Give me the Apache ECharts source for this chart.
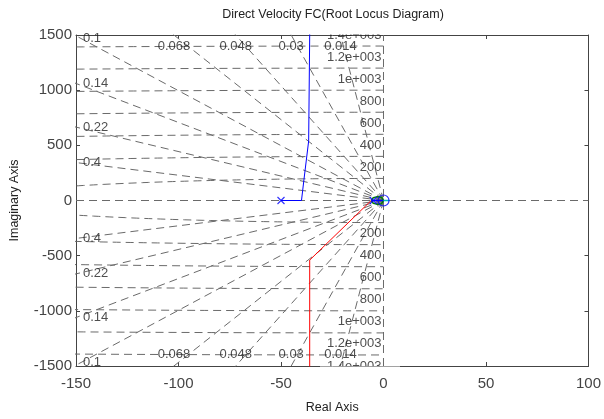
<!DOCTYPE html>
<html lang="en">
  <head>
    <meta charset="UTF-8" />
    <title>Direct Velocity FC(Root Locus Diagram)</title>
    <style>
      html, body { margin: 0; padding: 0; background: #fff; }
      #app { width: 604px; height: 419px; }
    </style>
  </head>
  <body>
    <div id="app"></div>
    <script src="https://cdn.jsdelivr.net/npm/echarts@6/dist/echarts.min.js"></script>
    <script>
      // damping ratio lines and natural frequency arcs (sgrid)
      var zetaValues = [0.014, 0.03, 0.048, 0.068, 0.1, 0.14, 0.22, 0.4]
      var wnValues = [200, 400, 600, 800, 1000, 1200, 1400]
      var wnLabels = ['200', '400', '600', '800', '1e+003', '1.2e+003', '1.4e+003']

      // root locus branches
      var blueLocus = [[-50, 0], [-40, 0], [-38.8, 190], [-36.5, 540], [-36, 1500], [-36, 1700]]
      var redLocus = [[-6, 0], [-36, -540], [-36, -1500], [-36, -1700]]
      var greenLocus = [[-6, 0], [-5, 25], [-3, 35], [-1, 30], [0, 0], [-1, -30], [-3, -35], [-5, -25], [-6, 0]]
      var blueNear = [[-6, 0], [0, 0]]
      var cyanLocus = [[0, 0], [3, 0]]
      var poles = [[-50, 0], [-5, 0]]
      var zeros = [[0, 0]]

      var xMin = -150, xMax = 100, yMin = -1500, yMax = 1500

      var gridStyle = { color: '#6a6a6a', width: 1, type: [8, 5] }
      var labelFont = { color: '#222', fontSize: 13, fontFamily: 'Liberation Sans' }

      function zetaSlope(z) {
        return Math.sqrt(1 - z * z) / z
      }

      var series = []

      // real and imaginary axis dashed lines
      series.push({
        type: 'line', symbol: 'none', silent: true, z: 1,
        lineStyle: gridStyle, data: [[xMin, 0], [xMax, 0]]
      })
      series.push({
        type: 'line', symbol: 'none', silent: true, z: 1,
        lineStyle: gridStyle, data: [[0, yMin], [0, yMax]]
      })

      var gridLabels = []
      zetaValues.forEach(function(z) {
        var s = zetaSlope(z)
        ;[1, -1].forEach(function(sign) {
          var endX = Math.max(xMin, yMax / s * -1)
          series.push({
            type: 'line', symbol: 'none', silent: true, z: 1, clip: true,
            lineStyle: gridStyle,
            data: [[0, 0], [-2000, sign * 2000 * s]]
          })
          var yAtLeft = -xMin * s
          if (yAtLeft < yMax) {
            gridLabels.push({
              value: [xMin, sign * Math.min(yAtLeft, 1468)],
              name: String(z),
              label: { position: 'right', offset: [2, 0] }
            })
          } else {
            gridLabels.push({
              value: [endX, sign * yMax],
              name: String(z),
              label: { position: sign > 0 ? 'bottom' : 'top', distance: 5 }
            })
          }
        })
      })

      wnValues.forEach(function(wn, i) {
        var pts = []
        for (var a = 90; a <= 270; a += 1) {
          var t = a * Math.PI / 180
          pts.push([wn * Math.cos(t), wn * Math.sin(t)])
        }
        series.push({
          type: 'line', symbol: 'none', silent: true, z: 1, clip: true,
          lineStyle: gridStyle, data: pts
        })
        gridLabels.push({
          value: [0, wn], name: wnLabels[i],
          label: { position: 'left', offset: [3, -11] }
        })
        gridLabels.push({
          value: [0, -wn], name: wnLabels[i],
          label: { position: 'left', offset: [3, 11] }
        })
      })

      series.push({
        type: 'scatter', symbolSize: 0, silent: true, z: 3,
        label: Object.assign({ show: true, formatter: '{b}' }, labelFont),
        data: gridLabels
      })

      // locus branches
      series.push({
        type: 'line', symbol: 'none', clip: true, z: 5,
        lineStyle: { color: '#0000ff', width: 1 }, data: blueLocus
      })
      series.push({
        type: 'line', symbol: 'none', clip: true, z: 5,
        lineStyle: { color: '#ff0000', width: 1 }, data: redLocus
      })
      series.push({
        type: 'line', symbol: 'none', z: 5,
        lineStyle: { color: '#008000', width: 1.5 }, data: greenLocus
      })
      series.push({
        type: 'line', symbol: 'none', z: 5,
        lineStyle: { color: '#0000ff', width: 1.5 }, data: blueNear
      })
      series.push({
        type: 'line', symbol: 'none', z: 5,
        lineStyle: { color: '#00bfbf', width: 1.5 }, data: cyanLocus
      })
      series.push({
        type: 'scatter', z: 6, symbolSize: 7,
        symbol: 'path://M0,0L10,10M10,0L0,10',
        itemStyle: { color: 'none', borderColor: '#0000ff', borderWidth: 1.2 },
        data: poles
      })
      series.push({
        type: 'scatter', z: 6, symbol: 'circle', symbolSize: 11,
        itemStyle: { color: 'none', borderColor: '#0000ff', borderWidth: 1.2 },
        data: zeros
      })

      var axisLineStyle = { color: '#444', width: 1 }
      var tickLabel = {
        color: '#444', fontSize: 15, fontFamily: 'Liberation Sans',
        formatter: function(v) { return String(v) }
      }

      var chart = echarts.init(document.getElementById('app'))
      chart.setOption({
        animation: false,
        backgroundColor: '#fff',
        grid: { left: 76, right: 14, top: 35, bottom: 53 },
        xAxis: [
          {
            type: 'value', min: xMin, max: xMax, interval: 50,
            name: 'Real Axis', nameLocation: 'middle', nameGap: 35,
            nameTextStyle: { color: '#222', fontSize: 12.5, fontFamily: 'Liberation Sans' },
            axisLine: { show: true, onZero: false, lineStyle: axisLineStyle },
            axisTick: { inside: true, length: 4, lineStyle: axisLineStyle },
            axisLabel: Object.assign({ margin: 10 }, tickLabel),
            splitLine: { show: false }
          },
          {
            type: 'value', min: xMin, max: xMax, interval: 50, position: 'top',
            axisLine: { show: true, onZero: false, lineStyle: axisLineStyle },
            axisTick: { inside: true, length: 4, lineStyle: axisLineStyle },
            axisLabel: { show: false },
            splitLine: { show: false }
          }
        ],
        yAxis: [
          {
            type: 'value', min: yMin, max: yMax, interval: 500,
            name: 'Imaginary Axis', nameLocation: 'middle', nameGap: 55,
            nameTextStyle: { color: '#222', fontSize: 12.5, fontFamily: 'Liberation Sans' },
            axisLine: { show: true, onZero: false, lineStyle: axisLineStyle },
            axisTick: { inside: true, length: 4, lineStyle: axisLineStyle },
            axisLabel: Object.assign({ margin: 4 }, tickLabel),
            splitLine: { show: false }
          },
          {
            type: 'value', min: yMin, max: yMax, interval: 500, position: 'right',
            axisLine: { show: true, onZero: false, lineStyle: axisLineStyle },
            axisTick: { inside: true, length: 4, lineStyle: axisLineStyle },
            axisLabel: { show: false },
            splitLine: { show: false }
          }
        ],
        graphic: [
          // hide the halves of the 1.4e+003 labels that fall outside the box
          { type: 'rect', z: 100, shape: { x: 320, y: 22, width: 80, height: 12.5 }, style: { fill: '#fff' } },
          { type: 'rect', z: 100, shape: { x: 320, y: 366.5, width: 80, height: 7 }, style: { fill: '#fff' } },
          {
            type: 'text', z: 101, x: 333, y: 15,
            style: {
              text: 'Direct Velocity FC(Root Locus Diagram)',
              textAlign: 'center', textVerticalAlign: 'middle',
              fill: '#222', fontSize: 12.5, fontFamily: 'Liberation Sans'
            }
          }
        ],
        series: series
      })
    </script>
  </body>
</html>
